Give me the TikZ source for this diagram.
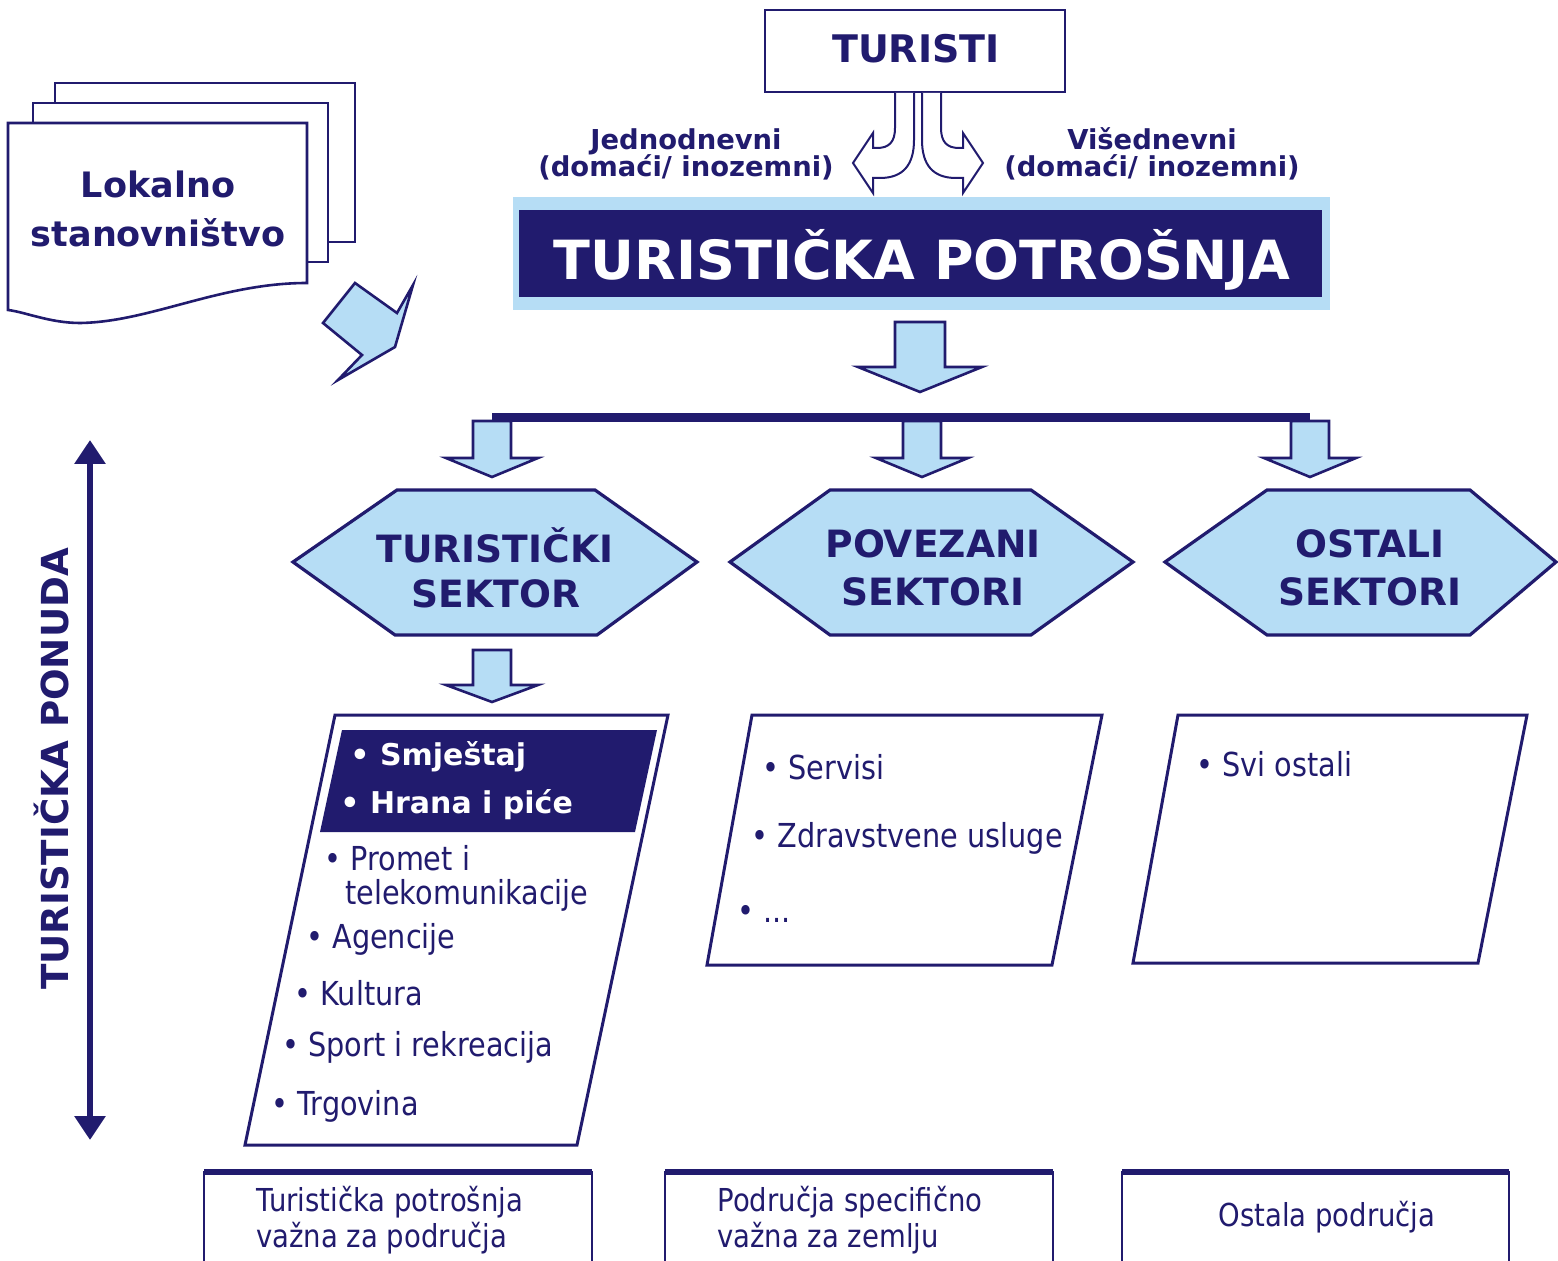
\documentclass[tikz,border=0pt]{standalone}
\usepackage{fontspec}
\setmainfont{DejaVu Sans}
\newfontfamily\condf[FakeStretch=0.87]{DejaVu Sans}
\usetikzlibrary{arrows.meta}
\definecolor{navy}{RGB}{33,27,110}
\definecolor{lblue}{RGB}{182,221,245}
\newcommand\blockdown[6]{% cx, ytop, half shaft, yshaft, half head, ytip
  \draw[blockarrow] (#1-#3,#2) -- (#1+#3,#2) -- (#1+#3,#4) -- (#1+#5,#4) -- (#1,#6) -- (#1-#5,#4) -- (#1-#3,#4) -- cycle;}
\begin{document}
\begin{tikzpicture}[x=0.5pt,y=-0.5pt,
  outl/.style={draw=navy, line width=1.5pt, line join=miter},
  doc/.style={draw=navy, fill=white, line width=1.3pt},
  blockarrow/.style={draw=navy, fill=lblue, line width=1.3pt, line join=miter},
  hollow/.style={draw=navy, fill=white, line width=1pt, line join=miter},
  hexa/.style={draw=navy, fill=lblue, line width=1.6pt, line join=miter},
  txt/.style={text=navy, inner sep=0pt, anchor=base},
  btxt/.style={txt, anchor=base west, font=\condf\fontsize{16.5}{18}\selectfont},
  wtxt/.style={text=white, inner sep=0pt, anchor=base west, font=\bfseries\fontsize{15}{18}\selectfont},
  bottxt/.style={txt, font=\condf\fontsize{15.8}{18}\selectfont}]
\useasboundingbox (0,0) rectangle (1558,1261);
\clip (0,0) rectangle (1558,1261);
\fill[white] (0,0) rectangle (1558,1261);

% local population (document stack)
\draw[doc] (55,83) rectangle (355,242);
\draw[doc] (33,103) rectangle (328,262);
\draw[doc] (8,123) -- (307,123) -- (307,283) .. controls (220,283) and (150,322) .. (80,323) .. controls (50,323) and (25,312) .. (8,310) -- cycle;
\node[txt, font=\bfseries\fontsize{17.5}{21}\selectfont] (lok1) at (158,198) {Lokalno};
\node[txt, font=\bfseries\fontsize{17.5}{21}\selectfont] (lok2) at (158,247) {stanovništvo};

% bent arrow
\draw[blockarrow] (355,283) -- (397,313) -- (413,285) -- (395,347) -- (338,380) -- (362,355) -- (323,323) -- cycle;

% TURISTI
\node[draw=navy, line width=1.4pt, fill=white, minimum width=150pt, minimum height=41pt, inner sep=0pt] (tbox) at (915,51) {};
\node[txt, font=\bfseries\fontsize{19}{22}\selectfont] (tur) at (916,63) {TURISTI};

% split arrows
\def\splitpath{(895,93) -- (895,128) .. controls (895,142) and (889,148) .. (877,148) -- (873,148) -- (873,133) -- (853,163) -- (873,193) -- (873,178) -- (880,178) .. controls (903,178) and (914,165) .. (914,140) -- (914,93)}
\draw[hollow] \splitpath;
\begin{scope}[shift={(1836,0)}, xscale=-1]
\draw[hollow] \splitpath;
\end{scope}

\node[txt, font=\bfseries\fontsize{13.7}{16}\selectfont] (j1) at (686,150) {Jednodnevni};
\node[txt, font=\bfseries\fontsize{13.7}{16}\selectfont] (j2) at (686,177) {(domaći/ inozemni)};
\node[txt, font=\bfseries\fontsize{13.7}{16}\selectfont] (v1) at (1152,150) {Višednevni};
\node[txt, font=\bfseries\fontsize{13.7}{16}\selectfont] (v2) at (1152,177) {(domaći/ inozemni)};

% TURISTICKA POTROSNJA
\fill[lblue] (513,197) rectangle (1330,310);
\fill[navy] (519,210) rectangle (1322,297);
\node[text=white, inner sep=0pt, anchor=base, font=\bfseries\fontsize{27}{30}\selectfont] (tp) at (922,280) {TURISTIČKA POTROŠNJA};

\blockdown{920}{322}{25}{367}{62}{392}

% bar and small arrows
\fill[navy] (492,413) rectangle (1310,422);
\blockdown{492}{421}{19}{458}{46}{477}
\blockdown{922}{421}{19}{458}{46}{477}
\blockdown{1310}{421}{19}{458}{46}{477}

% hexagons
\draw[hexa] (293,562) -- (397,490) -- (595,490) -- (697,562) -- (597,635) -- (395,635) -- cycle;
\draw[hexa] (730,562) -- (830,490) -- (1031,490) -- (1133,562) -- (1031,635) -- (830,635) -- cycle;
\draw[hexa] (1165,562) -- (1267,490) -- (1470,490) -- (1556,562) -- (1470,635) -- (1267,635) -- cycle;
\node[txt, font=\bfseries\fontsize{18.8}{22}\selectfont] (h1a) at (495,563) {TURISTIČKI};
\node[txt, font=\bfseries\fontsize{18.8}{22}\selectfont] (h1b) at (496,608) {SEKTOR};
\node[txt, font=\bfseries\fontsize{18.8}{22}\selectfont] (h2a) at (933,558) {POVEZANI};
\node[txt, font=\bfseries\fontsize{18.8}{22}\selectfont] (h2b) at (933,605) {SEKTORI};
\node[txt, font=\bfseries\fontsize{18.8}{22}\selectfont] (h3a) at (1370,558) {OSTALI};
\node[txt, font=\bfseries\fontsize{18.8}{22}\selectfont] (h3b) at (1370,605) {SEKTORI};

\blockdown{492}{650}{19}{685}{46}{702}

% parallelograms
\draw[outl, fill=white] (335,715) -- (668,715) -- (577,1145) -- (245,1145) -- cycle;
\fill[navy] (342,730) -- (657,730) -- (635,832) -- (320,832) -- cycle;
\draw[outl, fill=white] (752,715) -- (1102,715) -- (1052,965) -- (707,965) -- cycle;
\draw[outl, fill=white] (1178,715) -- (1527,715) -- (1478,963) -- (1133,963) -- cycle;

\node[wtxt] (s1) at (350,765) {• Smještaj};
\node[wtxt] (s2) at (340,813) {• Hrana i piće};
\node[btxt] (s3) at (324,870) {• Promet i};
\node[btxt] (s3b) at (345,904) {telekomunikacije};
\node[btxt] (s4) at (306,948) {• Agencije};
\node[btxt] (s5) at (294,1005) {• Kultura};
\node[btxt] (s6) at (282,1056) {• Sport i rekreacija};
\node[btxt] (s7) at (271,1115) {• Trgovina};

\node[btxt] (p1) at (762,779) {• Servisi};
\node[btxt] (p2) at (751,847) {• Zdravstvene usluge};
\node[btxt] (p3) at (737,922) {• ...};

\node[btxt] (o1) at (1196,776) {• Svi ostali};

% vertical arrow
\coordinate (vt) at (90,440);
\coordinate (vb) at (90,1140);
\draw[navy, line width=3pt, {Triangle[length=12pt,width=15pt]}-{Triangle[length=12pt,width=15pt]}] (vt) -- (vb);
\node[txt, rotate=90, font=\bfseries\fontsize{18.6}{22}\selectfont] (pon) at (68,769) {TURISTIČKA PONUDA};

% bottom boxes
\draw[navy, line width=1.4pt, fill=white] (204,1172) rectangle (592,1300);
\draw[navy, line width=1.4pt, fill=white] (665,1172) rectangle (1053,1300);
\draw[navy, line width=1.4pt, fill=white] (1122,1172) rectangle (1509,1300);
\draw[navy, line width=2.6pt] (204,1172) -- (592,1172) (665,1172) -- (1053,1172) (1122,1172) -- (1509,1172);
\node[bottxt, anchor=base west] (b1a) at (256,1211) {Turistička potrošnja};
\node[bottxt, anchor=base west] (b1b) at (256,1247) {važna za područja};
\node[bottxt, anchor=base west] (b2a) at (717,1211) {Područja specifično};
\node[bottxt, anchor=base west] (b2b) at (717,1247) {važna za zemlju};
\node[bottxt] (b3) at (1327,1226) {Ostala područja};
\end{tikzpicture}
\end{document}
